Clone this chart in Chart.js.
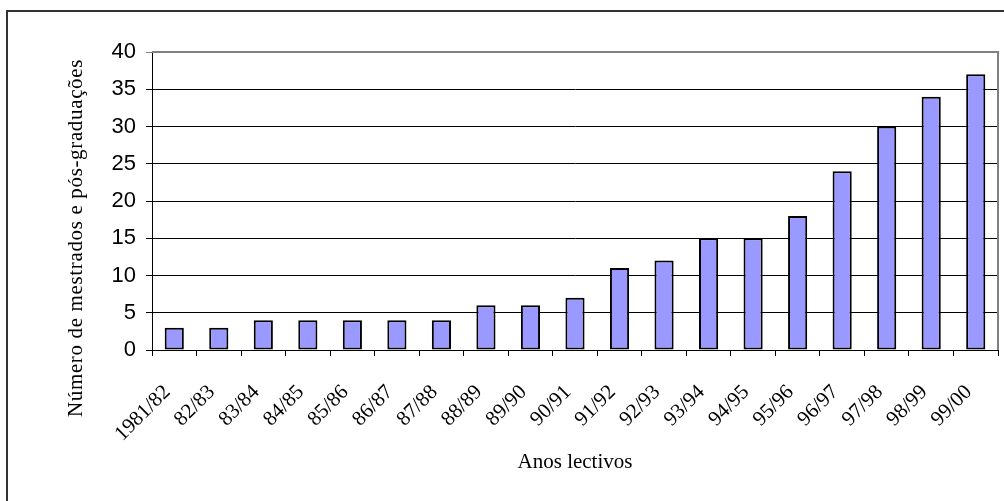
<!DOCTYPE html>
<html>
<head>
<meta charset="utf-8">
<script src="https://cdn.jsdelivr.net/npm/chart.js@4.4.0/dist/chart.umd.min.js"></script>
<style>
  html, body { margin:0; padding:0; background:#fff; }
  #wrap { position:relative; width:1004px; height:501px; overflow:hidden; }
  #frame { position:absolute; left:6px; top:10px; width:1100px; height:600px;
           border-left:2px solid #333; border-top:2px solid #333; }
  canvas { position:absolute; left:0; top:0; }
</style>
</head>
<body>
<div id="wrap">
  <div id="frame"></div>
  <canvas id="chart" width="1004" height="501"></canvas>
</div>
<script>
// ====== DATA ======
const anos = ['1981/82','82/83','83/84','84/85','85/86','86/87','87/88','88/89','89/90','90/91',
              '91/92','92/93','93/94','94/95','95/96','96/97','97/98','98/99','99/00'];
const numero = [3, 3, 4, 4, 4, 4, 4, 6, 6, 7, 11, 12, 15, 15, 18, 24, 30, 34, 37];
const yTicks = [0, 5, 10, 15, 20, 25, 30, 35, 40];

const yTitle = 'Número de mestrados e pós-graduações';
const xTitle = 'Anos lectivos';

// ====== PLUGINS ======
// grey frame on top/right of plot area + rotated y title (placed like Excel does)
const plotFrame = {
  id: 'plotFrame',
  afterDatasetsDraw(chart) {
    const { ctx, chartArea: a } = chart;
    ctx.save();
    ctx.strokeStyle = '#808080';
    ctx.lineWidth = 2;
    ctx.beginPath();
    ctx.moveTo(a.left, a.top);
    ctx.lineTo(a.right, a.top);
    ctx.lineTo(a.right, a.bottom);
    ctx.stroke();
    ctx.restore();
  },
  afterDraw(chart) {
    const { ctx, chartArea: a } = chart;
    ctx.save();
    ctx.translate(76, (a.top + a.bottom) / 2 + 37);
    ctx.rotate(-Math.PI / 2);
    ctx.font = '21px "Liberation Serif"';
    ctx.letterSpacing = '0.65px';
    ctx.fillStyle = '#000';
    ctx.textAlign = 'center';
    ctx.textBaseline = 'middle';
    ctx.fillText(yTitle, 0, 0);
    ctx.restore();
  }
};

// ====== CHART ======
const ctx = document.getElementById('chart').getContext('2d');
new Chart(ctx, {
  type: 'bar',
  data: {
    labels: anos,
    datasets: [{
      data: numero,
      backgroundColor: '#9999FF',
      borderColor: '#000',
      borderWidth: 2,
      borderSkipped: false,
      barPercentage: 0.43,
      categoryPercentage: 1
    }]
  },
  options: {
    responsive: false,
    animation: false,
    layout: { padding: { top: 52, right: 6, left: 0, bottom: 0 } },
    plugins: { legend: { display: false }, tooltip: { enabled: false } },
    scales: {
      x: {
        afterFit: s => { s.height = 151; s.paddingLeft = 0; s.paddingRight = 0; },
        grid: { display: true, drawOnChartArea: false, drawTicks: true, tickLength: 6, color: '#000', offset: true },
        border: { display: true, color: '#000', width: 1 },
        ticks: {
          autoSkip: false, minRotation: 45, maxRotation: 45,
          color: '#000', padding: 24, labelOffset: -7,
          font: { family: '"Liberation Serif"', size: 21 }
        },
        title: {
          display: true, text: xTitle, color: '#000',
          font: { family: '"Liberation Serif"', size: 21 },
          padding: { top: 0, bottom: 26 }
        }
      },
      y: {
        min: 0, max: 40,
        afterFit: s => { s.width = 152; s.paddingTop = 0; s.paddingBottom = 0; },
        afterBuildTicks: s => { s.ticks = yTicks.map(v => ({ value: v })); },
        grid: {
          color: c => (c.tick && c.tick.value === 40) ? '#808080' : '#000',
          lineWidth: 1, tickLength: 6
        },
        border: { display: true, color: '#000', width: 1 },
        ticks: {
          color: '#000', padding: 10,
          font: { family: '"Liberation Sans"', size: 22 }
        }
      }
    }
  },
  plugins: [plotFrame]
});
</script>
</body>
</html>
